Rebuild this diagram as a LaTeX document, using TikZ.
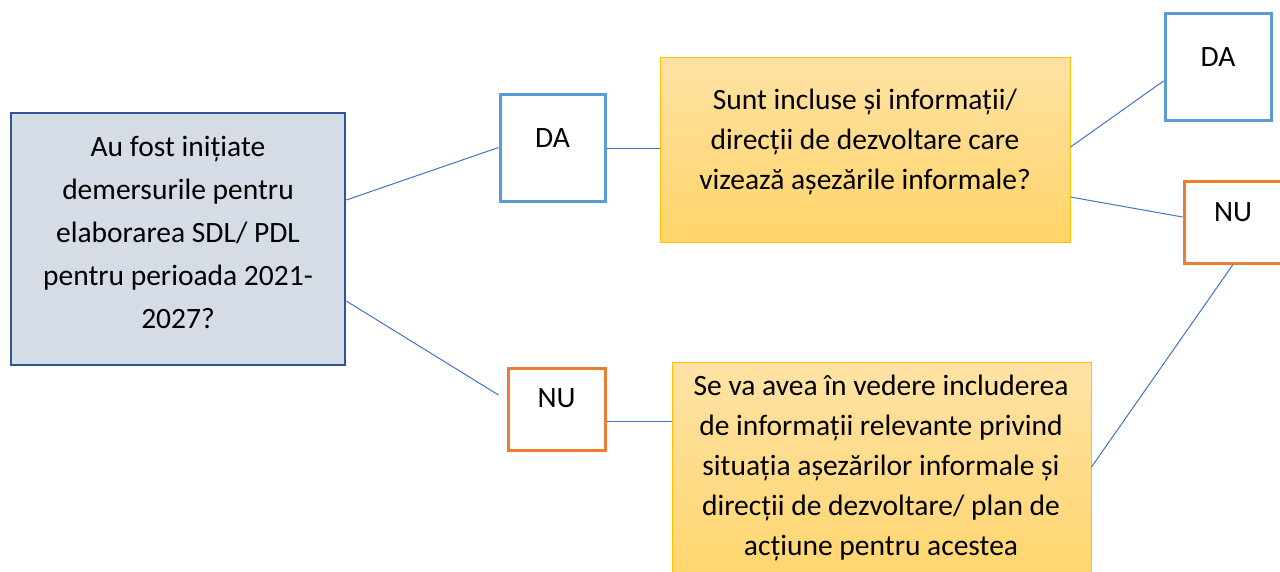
\documentclass[tikz,border=0pt]{standalone}
\usepackage{fontspec}
\setmainfont{Carlito}
\definecolor{qfill}{HTML}{D6DCE5}
\definecolor{qdraw}{HTML}{2F5597}
\definecolor{dablue}{HTML}{5B9BD5}
\definecolor{nuorange}{HTML}{ED7D31}
\definecolor{ytop}{HTML}{FFE2A5}
\definecolor{ybot}{HTML}{FFD468}
\definecolor{ydraw}{HTML}{FFC000}
\definecolor{conn}{HTML}{4472C4}
\tikzset{
  qbox/.style={draw=qdraw, fill=qfill, line width=2.5pt, minimum width=334pt, minimum height=252pt, inner sep=0pt},
  dabox/.style={draw=dablue, fill=white, line width=3pt, inner sep=0pt},
  nubox/.style={draw=nuorange, fill=white, line width=3pt, inner sep=0pt},
  ybox/.style={draw=ydraw, top color=ytop, bottom color=ybot, line width=1pt, inner sep=0pt},
  txt/.style={align=center, inner sep=0pt, font=\fontsize{29.5}{40}\selectfont},
  qtxt/.style={align=center, inner sep=0pt, font=\fontsize{29.5}{43}\selectfont},
  connector/.style={draw=conn, line width=1pt}
}
\begin{document}
\begin{tikzpicture}[x=1pt, y=-1pt]
\useasboundingbox (0,0) rectangle (1280,571);
\clip (0,0) rectangle (1280,571);
% boxes
\node[qbox] (q1) at (178,239) {};
\node[dabox, minimum width=105pt, minimum height=107pt] (da1) at (552.5,147.5) {};
\node[ybox, minimum width=410pt, minimum height=185pt] (y1) at (865,149.5) {};
\node[dabox, minimum width=106pt, minimum height=107pt] (da2) at (1218,66.5) {};
\node[nubox, minimum width=100pt, minimum height=82pt] (nu2) at (1234,222) {};
\node[nubox, minimum width=97pt, minimum height=82pt] (nu1) at (556.5,409) {};
\node[ybox, minimum width=419pt, minimum height=240pt] (y2) at (881.5,482) {};
% texts
\node[qtxt] (q1t) at (178,232) {Au fost inițiate\\demersurile pentru\\elaborarea SDL/ PDL\\pentru perioada 2021-\\2027?};
\node[txt] (da1t) at (552.5,138) {DA};
\node[txt] (y1t) at (865,142) {Sunt incluse și informații/\\direcții de dezvoltare care\\vizează așezările informale?};
\node[txt] (da2t) at (1218,57) {DA};
\node[txt] (nu2t) at (1233,212) {NU};
\node[txt] (nu1t) at (556.5,398) {NU};
\node[txt] (y2t) at (881,468) {Se va avea în vedere includerea\\de informații relevante privind\\situația așezărilor informale și\\direcții de dezvoltare/ plan de\\acțiune pentru acestea};
% connectors
\draw[connector] ([yshift=39pt]q1.east) -- (da1.west);
\draw[connector] ([yshift=-62pt]q1.east) -- ([xshift=-8pt,yshift=14pt]nu1.west);
\draw[connector] ([yshift=-0.5pt]da1.east) -- ([yshift=-0.5pt]da1.east -| y1.west);
\draw[connector] ([yshift=-12pt]nu1.east) -- ([yshift=-12pt]nu1.east -| y2.west);
\draw[connector] ([yshift=2.5pt]y1.east) -- ([yshift=-14.5pt]da2.west);
\draw[connector] ([yshift=-47.5pt]y1.east) -- ([yshift=5pt]nu2.west);
\draw[connector] ([xshift=-1pt]nu2.south) -- ([yshift=15pt]y2.east);
\end{tikzpicture}
\end{document}
